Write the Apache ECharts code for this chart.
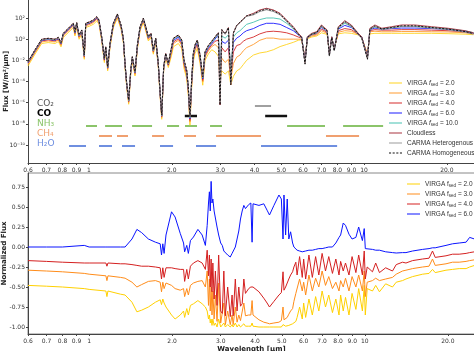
<!DOCTYPE html>
<html>
<head>
<meta charset="utf-8">
<script src="https://cdn.jsdelivr.net/npm/echarts@6/dist/echarts.min.js"></script>
<style>
html, body { margin: 0; padding: 0; background: #fff; }
#chart { width: 474px; height: 351px; }
</style>
</head>
<body>
<div id="chart"></div>
<script>
// ---- top panel: wavelength grid (um) and log10 flux per model ----
var wlFlux = [0.60,0.636,0.673,0.711,0.752,0.774,0.791,0.806,0.841,0.877,
  0.889,0.902,0.920,0.941,0.961,0.973,1.008,1.037,1.067,1.087,
  1.112,1.137,1.150,1.169,1.192,1.226,1.268,1.307,1.333,1.352,
  1.371,1.394,1.418,1.437,1.470,1.499,1.533,1.576,1.608,1.643,
  1.680,1.713,1.748,1.786,1.811,1.838,1.868,1.900,1.942,1.997,
  2.026,2.112,2.173,2.215,2.265,2.296,2.328,2.361,2.394,2.428,
  2.476,2.533,2.591,2.641,2.716,2.793,2.871,2.952,2.995,3.039,
  3.125,3.213,3.277,3.349,3.443,3.540,3.639,3.741,3.960,4.180,
  4.420,4.680,4.950,5.230,5.530,5.770,5.930,6.100,6.220,6.450,
  6.730,7.000,7.340,7.480,7.630,7.790,8.060,8.510,8.990,9.530,
  9.800,10.29,10.50,10.95,11.60,12.60,13.70,15.30,17.60,20.20,
  23.30,25.00];

var cloudlessLog = [-2.13,-1.02,-0.01,0.08,-0.01,0.17,-0.33,0.55,1.03,1.50,
  0.70,1.56,0.39,0.87,-1.50,1.50,1.65,1.81,2.12,1.81,
  0.23,-1.81,-0.71,-2.60,-0.39,1.50,2.38,1.34,0.08,-2.28,
  -4.17,-5.75,-2.91,-1.66,-3.08,-0.55,1.18,1.97,1.18,0.23,
  0.55,-1.02,0.08,-2.28,-4.80,-7.17,-2.60,-1.34,-2.28,-0.71,
  0.08,0.39,-0.08,-1.97,-2.91,-4.49,-7.33,-3.86,-1.34,-0.55,
  -0.08,-1.50,-3.55,-1.20,-0.60,-0.20,0.20,0.60,-6.22,0.90,
  0.50,1.10,-4.30,0.60,1.30,1.60,1.90,2.20,2.44,2.76,
  2.92,2.76,2.44,1.81,1.18,0.55,0.23,-2.28,0.23,0.55,
  0.71,1.34,0.87,-1.50,0.23,-1.02,1.18,1.75,1.34,0.55,
  0.23,-1.81,1.03,1.34,1.03,1.18,1.34,1.34,1.18,1.03,
  0.80,0.61];

var carmaHomLog = [-2.13,-1.02,-0.01,0.08,-0.01,0.17,-0.33,0.55,1.03,1.50,
  0.70,1.56,0.39,0.87,-1.50,1.50,1.65,1.81,2.12,1.81,
  0.23,-1.81,-0.71,-2.60,-0.39,1.50,2.38,1.34,0.08,-2.28,
  -4.17,-5.75,-2.91,-1.66,-3.08,-0.55,1.18,1.97,1.18,0.23,
  0.55,-1.02,0.08,-2.28,-4.80,-7.17,-2.60,-1.34,-2.28,-0.71,
  0.08,0.39,-0.08,-1.97,-2.91,-4.49,-7.33,-3.86,-1.34,-0.55,
  -0.08,-1.50,-3.55,-1.20,-0.60,-0.20,0.20,0.60,-6.22,0.90,
  0.50,1.10,-4.30,0.60,1.30,1.60,1.90,2.20,2.36,2.68,
  2.84,2.68,2.36,1.73,1.10,0.47,0.15,-2.36,0.15,0.47,
  0.63,1.26,0.79,-1.58,0.15,-1.10,1.10,1.67,1.26,0.47,
  0.15,-1.89,0.95,1.26,0.95,1.10,1.26,1.26,1.10,0.95,
  0.72,0.53];

var carmaHetLog = [-2.18,-1.07,-0.06,0.03,-0.06,0.12,-0.38,0.50,0.98,1.45,
  0.65,1.51,0.34,0.82,-1.55,1.45,1.60,1.76,2.07,1.76,
  0.18,-1.86,-0.76,-2.65,-0.44,1.45,2.33,1.29,0.03,-2.33,
  -4.22,-5.80,-2.96,-1.71,-3.13,-0.60,1.13,1.92,1.13,0.18,
  0.50,-1.07,0.03,-2.33,-4.85,-7.22,-2.65,-1.39,-2.33,-0.76,
  0.03,0.34,-0.13,-2.02,-2.96,-4.54,-7.38,-3.91,-1.39,-0.60,
  -0.13,-1.55,-3.60,-1.25,-0.65,-0.25,0.15,0.55,-6.00,0.85,
  0.45,1.05,-4.20,0.55,1.25,1.55,1.85,2.15,2.29,2.61,
  2.77,2.61,2.29,1.66,1.03,0.40,0.08,-2.30,0.08,0.40,
  0.56,1.19,0.72,-1.60,0.08,-1.10,1.03,1.60,1.19,0.40,
  0.08,-1.90,0.88,1.19,0.88,1.03,1.19,1.19,1.03,0.88,
  0.65,0.46];

var virga10Log = [-2.18,-1.07,-0.06,0.03,-0.06,0.12,-0.38,0.50,0.98,1.45,
  0.65,1.51,0.34,0.82,-1.55,1.45,1.60,1.76,2.07,1.76,
  0.18,-1.86,-0.76,-2.65,-0.44,1.45,2.33,1.29,0.03,-2.33,
  -4.22,-5.80,-2.96,-1.71,-3.13,-0.60,1.13,1.92,1.13,0.18,
  0.50,-1.07,0.03,-2.33,-4.85,-7.22,-2.65,-1.39,-2.33,-0.81,
  -0.02,0.29,-0.18,-2.07,-3.01,-4.59,-7.43,-3.96,-1.44,-0.65,
  -0.18,-1.60,-3.65,-1.30,-0.70,-0.30,0.10,0.50,-3.50,0.30,
  0.10,0.40,-3.00,0.20,0.60,0.80,1.10,1.40,1.60,1.85,
  2.00,2.00,1.90,1.50,1.00,0.50,0.22,-2.20,0.20,0.50,
  0.65,1.20,0.80,-1.45,0.22,-1.00,1.05,1.50,1.20,0.52,
  0.22,-1.75,0.95,1.15,0.98,1.10,1.20,1.20,1.10,0.98,
  0.78,0.60];

var virga6Log = [-2.23,-1.12,-0.11,-0.02,-0.11,0.07,-0.43,0.45,0.93,1.40,
  0.60,1.46,0.29,0.77,-1.60,1.40,1.55,1.71,2.02,1.71,
  0.13,-1.91,-0.81,-2.70,-0.49,1.40,2.28,1.24,-0.02,-2.38,
  -4.27,-5.85,-3.01,-1.76,-3.18,-0.65,1.08,1.87,1.08,0.13,
  0.45,-1.12,-0.02,-2.38,-4.90,-7.27,-2.70,-1.44,-2.38,-0.91,
  -0.12,0.19,-0.28,-2.17,-3.11,-4.69,-7.53,-4.06,-1.54,-0.75,
  -0.28,-1.70,-3.75,-1.40,-0.80,-0.40,0.00,0.40,-3.50,-0.20,
  -0.40,-0.10,-3.20,-0.30,0.10,0.30,0.60,0.80,1.00,1.30,
  1.50,1.50,1.40,1.10,0.80,0.40,0.20,-2.10,0.18,0.45,
  0.60,1.10,0.75,-1.40,0.20,-0.98,0.95,1.30,1.10,0.50,
  0.21,-1.70,0.90,1.05,0.95,1.00,1.05,1.05,1.00,0.92,
  0.75,0.58];

var virga4Log = [-2.28,-1.17,-0.16,-0.07,-0.16,0.02,-0.48,0.40,0.88,1.35,
  0.55,1.41,0.24,0.72,-1.65,1.35,1.50,1.66,1.97,1.66,
  0.08,-1.96,-0.86,-2.75,-0.54,1.35,2.23,1.19,-0.07,-2.43,
  -4.32,-5.90,-3.06,-1.81,-3.23,-0.70,1.03,1.82,1.03,0.08,
  0.40,-1.17,-0.07,-2.43,-4.95,-7.32,-2.75,-1.49,-2.43,-1.06,
  -0.27,0.04,-0.43,-2.32,-3.26,-4.84,-7.68,-4.21,-1.69,-0.90,
  -0.43,-1.85,-3.90,-1.55,-0.95,-0.55,-0.20,-0.10,-3.50,-0.80,
  -1.20,-0.80,-3.50,-1.20,-0.60,-0.50,-0.20,0.00,0.20,0.50,
  0.70,0.75,0.70,0.60,0.40,0.20,0.10,-2.00,0.15,0.40,
  0.50,0.95,0.65,-1.35,0.18,-0.95,0.80,1.00,0.90,0.48,
  0.20,-1.60,0.80,0.90,0.85,0.85,0.90,0.90,0.85,0.80,
  0.68,0.55];

var virga3Log = [-2.38,-1.27,-0.26,-0.17,-0.26,-0.08,-0.58,0.30,0.78,1.25,
  0.45,1.31,0.14,0.62,-1.75,1.25,1.40,1.56,1.87,1.56,
  -0.02,-2.06,-0.96,-2.85,-0.64,1.25,2.13,1.09,-0.17,-2.53,
  -4.42,-6.00,-3.16,-1.91,-3.33,-0.80,0.93,1.72,0.93,-0.02,
  0.30,-1.27,-0.17,-2.53,-5.05,-7.42,-2.85,-1.59,-2.53,-1.21,
  -0.42,-0.11,-0.58,-2.47,-3.41,-4.99,-7.83,-4.36,-1.84,-1.05,
  -0.58,-2.00,-4.05,-1.70,-1.10,-0.70,-0.50,-0.80,-3.50,-1.80,
  -2.20,-1.90,-3.80,-2.30,-1.70,-1.50,-1.10,-0.80,-0.50,-0.10,
  0.10,0.10,0.00,0.00,0.00,0.00,0.00,-1.90,0.10,0.30,
  0.40,0.80,0.55,-1.30,0.15,-0.90,0.65,0.80,0.75,0.45,
  0.18,-1.50,0.70,0.75,0.70,0.70,0.72,0.72,0.70,0.68,
  0.60,0.50];

var virga2Log = [-2.53,-1.42,-0.41,-0.32,-0.41,-0.23,-0.73,0.15,0.63,1.10,
  0.30,1.16,-0.01,0.47,-1.90,1.10,1.25,1.41,1.72,1.41,
  -0.17,-2.21,-1.11,-3.00,-0.79,1.10,1.98,0.94,-0.32,-2.68,
  -4.57,-6.15,-3.31,-2.06,-3.48,-0.95,0.78,1.57,0.78,-0.17,
  0.15,-1.42,-0.32,-2.68,-5.20,-7.57,-3.00,-1.74,-2.68,-1.51,
  -0.72,-0.41,-0.88,-2.77,-3.71,-5.29,-8.13,-4.66,-2.14,-1.35,
  -0.88,-2.30,-4.35,-2.00,-1.40,-1.00,-1.20,-1.60,-3.80,-3.00,
  -3.30,-3.00,-4.30,-3.50,-3.00,-2.80,-2.40,-2.00,-1.50,-1.30,
  -1.20,-1.00,-0.70,-0.50,-0.30,-0.10,-0.05,-1.80,0.05,0.20,
  0.30,0.60,0.45,-1.25,0.10,-0.85,0.50,0.60,0.55,0.40,
  0.15,-1.40,0.50,0.55,0.55,0.55,0.55,0.55,0.55,0.52,
  0.47,0.42];

// molecule absorption bands [start, end] in um
var co2Bands = [[4.01, 4.59]];
var coBands = [[2.23, 2.47], [4.37, 5.25]];
var nh3Bands = [[0.975, 1.069], [1.144, 1.318], [1.434, 1.695], [1.921, 2.125],
  [2.234, 2.47], [2.754, 3.045], [5.25, 7.21], [8.39, 11.73]];
var ch4Bands = [[1.087, 1.212], [1.264, 1.386], [1.695, 1.874], [2.215, 2.449],
  [2.896, 4.22], [7.27, 9.59]];
var h2oBands = [[0.846, 0.975], [1.087, 1.212], [1.318, 1.47], [1.812, 2.021],
  [2.449, 2.896], [4.22, 7.98]];
var molecules = ['CO2', 'CO', 'NH3', 'CH4', 'H2O'];

// ---- bottom panel: normalized flux ----
var wlNorm = [0.60,0.70,0.80,0.96,1.00,1.15,1.16,1.17,1.30,1.35,
  1.43,1.49,1.55,1.64,1.74,1.81,1.83,1.85,1.87,1.90,
  1.99,2.05,2.14,2.20,2.22,2.26,2.29,2.33,2.39,2.48,
  2.57,2.64,2.68,2.71,2.73,2.75,2.77,2.79,2.81,2.84,
  2.87,2.91,2.95,3.00,3.04,3.08,3.12,3.18,3.25,3.30,
  3.33,3.39,3.44,3.49,3.54,3.59,3.64,3.69,3.79,3.86,
  3.90,3.93,4.13,4.30,4.42,4.51,4.68,4.88,4.98,5.05,
  5.09,5.16,5.23,5.30,5.38,5.47,5.53,5.62,5.68,5.80,
  5.93,6.00,6.10,6.27,6.45,6.63,6.81,7.00,7.20,7.40,
  7.63,7.85,8.06,8.17,8.35,8.51,8.76,8.99,9.28,9.50,
  9.80,9.95,10.04,10.2,10.66,10.95,11.3,11.9,12.6,13.0,
  13.7,14.1,14.9,16.2,17.1,17.6,18.0,19.7,20.8,22.0,
  23.3,24.0,25.0];

var norm6 = [0.00,0.00,0.00,0.02,0.00,0.00,0.00,0.00,0.00,0.00,
  0.10,0.22,0.18,0.10,0.06,0.04,-0.10,0.04,-0.08,0.15,
  0.44,0.375,0.17,0.05,-0.06,0.02,-0.08,0.08,0.125,0.22,
  0.15,0.02,0.27,0.55,0.69,0.45,0.82,0.55,0.60,0.45,
  0.44,0.25,0.15,0.05,0.02,-0.05,-0.06,-0.10,-0.125,-0.08,
  -0.06,0.00,0.10,0.20,0.35,0.45,0.52,0.48,0.53,0.55,
  0.06,0.54,0.52,0.54,0.46,0.40,0.52,0.65,0.60,0.10,
  0.65,0.15,0.60,0.10,0.19,0.05,0.00,-0.02,-0.04,-0.05,
  -0.06,-0.06,-0.05,-0.04,-0.04,-0.03,-0.02,-0.02,-0.01,0.00,
  0.00,0.05,0.12,0.15,0.30,0.27,0.16,0.10,0.12,0.25,
  0.08,0.23,-0.02,-0.02,-0.03,-0.04,-0.04,-0.06,-0.07,-0.075,
  -0.07,-0.07,-0.05,-0.03,-0.02,-0.01,-0.01,0.02,0.04,0.05,
  0.06,0.12,0.10];

var norm4 = [-0.17,-0.18,-0.19,-0.20,-0.20,-0.20,-0.24,-0.20,-0.21,-0.21,
  -0.22,-0.23,-0.24,-0.24,-0.25,-0.26,-0.40,-0.26,-0.38,-0.26,
  -0.26,-0.27,-0.28,-0.28,-0.43,-0.28,-0.40,-0.24,-0.20,-0.17,
  -0.20,-0.28,-0.04,-0.36,-0.10,-0.50,-0.15,-0.56,-0.20,-0.65,
  -0.30,-0.73,-0.10,-0.80,-0.83,-0.30,-0.86,-0.50,-0.87,-0.60,
  -0.86,-0.40,-0.80,-0.50,-0.74,-0.71,-0.40,-0.58,-0.52,-0.50,
  -0.50,-0.50,-0.56,-0.64,-0.70,-0.75,-0.68,-0.60,-0.57,-0.31,
  -0.54,-0.50,-0.48,-0.40,-0.35,-0.31,-0.25,-0.19,-0.35,-0.12,
  -0.38,-0.15,-0.40,-0.10,-0.38,-0.12,-0.35,-0.08,-0.30,-0.12,
  -0.33,-0.15,-0.35,-0.18,-0.30,-0.20,-0.35,-0.12,-0.32,-0.10,
  -0.35,-0.05,-0.40,-0.25,-0.31,-0.20,-0.32,-0.26,-0.30,-0.22,
  -0.19,-0.20,-0.17,-0.15,-0.14,-0.05,-0.13,-0.11,-0.09,-0.09,
  -0.08,-0.07,-0.06];

var norm3 = [-0.29,-0.30,-0.31,-0.33,-0.34,-0.36,-0.42,-0.36,-0.38,-0.39,
  -0.44,-0.50,-0.47,-0.43,-0.42,-0.44,-0.56,-0.44,-0.52,-0.45,
  -0.48,-0.52,-0.54,-0.52,-0.62,-0.52,-0.60,-0.48,-0.45,-0.43,
  -0.42,-0.50,-0.30,-0.73,-0.40,-0.80,-0.50,-0.85,-0.55,-0.90,
  -0.60,-0.93,-0.45,-0.95,-0.96,-0.70,-0.97,-0.80,-0.97,-0.85,
  -0.97,-0.75,-0.94,-0.85,-0.92,-0.92,-0.70,-0.86,-0.85,-0.85,
  -0.67,-0.85,-0.91,-0.94,-0.95,-0.96,-0.95,-0.94,-0.92,-0.75,
  -0.91,-0.89,-0.88,-0.84,-0.80,-0.77,-0.68,-0.58,-0.56,-0.40,
  -0.55,-0.44,-0.60,-0.35,-0.55,-0.39,-0.50,-0.30,-0.48,-0.37,
  -0.52,-0.44,-0.55,-0.42,-0.50,-0.39,-0.55,-0.37,-0.50,-0.35,
  -0.55,-0.30,-0.62,-0.44,-0.42,-0.39,-0.42,-0.40,-0.38,-0.34,
  -0.30,-0.29,-0.27,-0.25,-0.24,-0.15,-0.23,-0.21,-0.19,-0.19,
  -0.18,-0.17,-0.16];

var norm2 = [-0.48,-0.49,-0.50,-0.52,-0.53,-0.55,-0.62,-0.55,-0.59,-0.60,
  -0.69,-0.81,-0.79,-0.75,-0.69,-0.66,-0.72,-0.65,-0.70,-0.75,
  -0.85,-0.90,-0.85,-0.80,-0.88,-0.77,-0.85,-0.73,-0.71,-0.67,
  -0.71,-0.75,-0.80,-0.90,-0.85,-0.95,-0.90,-0.98,-0.90,-0.98,
  -0.95,-1.00,-0.90,-1.00,-1.00,-0.95,-1.00,-0.97,-1.00,-0.97,
  -1.00,-0.95,-1.00,-0.97,-1.00,-1.00,-0.96,-0.99,-0.99,-0.99,
  -0.95,-0.99,-1.00,-1.00,-1.00,-1.00,-1.00,-1.00,-1.00,-0.97,
  -0.99,-0.99,-0.98,-0.98,-0.97,-0.96,-0.95,-0.93,-0.88,-0.75,
  -0.90,-0.70,-0.88,-0.65,-0.85,-0.62,-0.80,-0.55,-0.75,-0.60,
  -0.82,-0.65,-0.85,-0.60,-0.80,-0.63,-0.85,-0.58,-0.78,-0.52,
  -0.80,-0.48,-0.85,-0.52,-0.55,-0.48,-0.56,-0.46,-0.50,-0.44,
  -0.42,-0.40,-0.37,-0.34,-0.33,-0.28,-0.32,-0.29,-0.28,-0.27,
  -0.27,-0.25,-0.23];

// axis ticks
var wlTicks = [0.6, 0.7, 0.8, 0.9, 1, 2, 3, 4, 5, 6, 7, 8, 9, 10, 20];
var wlTickLabels = ['0.6','0.7','0.8','0.9','1','2.0','3.0','4.0','5.0','6.0','7.0','8.0','9.0','10','20.0'];
var fluxTicks = [1e-10, 1e-8, 1e-6, 1e-4, 1e-2, 1, 1e2];
var normTicks = [-1, -0.75, -0.5, -0.25, 0, 0.25, 0.5, 0.75];

var legendText = {
  v2: 'VIRGA {fi|f}{sb|sed} = 2.0',
  v3: 'VIRGA {fi|f}{sb|sed} = 3.0',
  v4: 'VIRGA {fi|f}{sb|sed} = 4.0',
  v6: 'VIRGA {fi|f}{sb|sed} = 6.0',
  v10: 'VIRGA {fi|f}{sb|sed} = 10.0',
  cl: 'Cloudless',
  het: 'CARMA Heterogenous',
  hom: 'CARMA Homogeneous',
  n2: 'VIRGA f{sb|sed} = 2.0',
  n3: 'VIRGA f{sb|sed} = 3.0',
  n4: 'VIRGA f{sb|sed} = 4.0',
  n6: 'VIRGA f{sb|sed} = 6.0'
};
var molText = {
  CO2: '{co2|CO₂}', CO: '{co|CO}', NH3: '{nh3|NH₃}', CH4: '{ch4|CH₄}', H2O: '{h2o|H₂O}'
};

var SUP = {'-': '⁻', '0': '⁰', '1': '¹', '2': '²', '3': '³', '4': '⁴',
  '5': '⁵', '6': '⁶', '7': '⁷', '8': '⁸', '9': '⁹'};
function powLabel(v) {
  var e = String(Math.round(Math.log10(v)));
  return '10' + e.split('').map(function (c) { return SUP[c]; }).join('');
}
function wlLabel(v) {
  for (var i = 0; i < wlTicks.length; i++) {
    if (Math.abs(wlTicks[i] - v) < 1e-6 * wlTicks[i]) return wlTickLabels[i];
  }
  return '';
}
function logPairs(xs, ys) {
  return xs.map(function (x, i) { return [x, Math.pow(10, ys[i])]; });
}
function pairs(xs, ys) {
  return xs.map(function (x, i) { return [x, ys[i]]; });
}

var FONT = 'DejaVu Sans';
var LFONT = 'Liberation Sans';
var axisCol = '#444';
var SOLID_ICON = 'path://M0 0H26V2H0Z';
var DASH_ICON = 'path://M0 0H4V2H0Z M7 0H11V2H7Z M14 0H18V2H14Z M21 0H25V2H21Z';
var nameStyle = { fontSize: 7, fontWeight: 'bold', color: '#222', fontFamily: FONT };

function wlAxis(grid, withName) {
  return {
    type: 'log', gridIndex: grid, min: 0.6, max: 25.1, logBase: 10,
    axisLine: { show: true, onZero: false, lineStyle: { color: axisCol, width: 1 } },
    axisTick: { show: true, length: 2, customValues: wlTicks, lineStyle: { color: axisCol } },
    minorTick: { show: false },
    splitLine: { show: false },
    axisLabel: { customValues: wlTicks, formatter: wlLabel, fontSize: 6, color: '#333', margin: 4, fontFamily: FONT },
    name: withName ? 'Wavelength [μm]' : '',
    nameLocation: 'middle', nameGap: 12, nameMoveOverlap: false,
    nameTextStyle: nameStyle
  };
}

function fluxLine(name, ys, color, width, dash) {
  return {
    name: name, type: 'line', xAxisIndex: 0, yAxisIndex: 0,
    data: logPairs(wlFlux, ys), symbol: 'none', animation: false,
    lineStyle: { color: color, width: width, type: dash || 'solid' },
    itemStyle: { color: color }
  };
}
function normLine(name, ys, color) {
  return {
    name: name, type: 'line', xAxisIndex: 1, yAxisIndex: 1,
    data: pairs(wlNorm, ys), symbol: 'none', animation: false,
    lineStyle: { color: color, width: 1 }, itemStyle: { color: color }
  };
}
function bandSeries(bands, mol, color, width) {
  return {
    type: 'custom', xAxisIndex: 2, yAxisIndex: 2, silent: true, animation: false,
    itemStyle: { color: color },
    encode: { x: [0, 1], y: 2 },
    data: bands.map(function (b) { return [b[0], b[1], mol]; }),
    renderItem: function (params, api) {
      var p1 = api.coord([api.value(0), api.value(2)]);
      var p2 = api.coord([api.value(1), api.value(2)]);
      return {
        type: 'line',
        shape: { x1: p1[0], y1: p1[1], x2: p2[0], y2: p2[1] },
        style: { stroke: api.visual('color'), lineWidth: width }
      };
    }
  };
}
function legendItems(names) {
  return names.map(function (n) { return { name: n, icon: n === 'hom' ? DASH_ICON : SOLID_ICON }; });
}

var legendRich = {
  fi: { fontStyle: 'italic', fontSize: 6.5, fontFamily: LFONT, color: '#333' },
  sb: { fontSize: 4.5, fontFamily: LFONT, color: '#333', padding: [3, 0, 0, 0] }
};

var chart = echarts.init(document.getElementById('chart'));
chart.setOption({
  animation: false,
  backgroundColor: '#fff',
  textStyle: { fontFamily: FONT },
  grid: [
    { left: 28, right: 0, top: 0, height: 163, outerBoundsMode: 'none', containLabel: false },
    { left: 28, right: -1, top: 173, bottom: 17, show: true, borderColor: '#888', borderWidth: 1,
      backgroundColor: 'transparent', outerBoundsMode: 'none', containLabel: false },
    { left: 28, right: 0, top: 101, height: 50, outerBoundsMode: 'none', containLabel: false }
  ],
  xAxis: [
    wlAxis(0, false),
    wlAxis(1, true),
    { type: 'log', gridIndex: 2, min: 0.6, max: 25.1, show: false }
  ],
  yAxis: [
    {
      type: 'log', gridIndex: 0, min: 1.995e-12, max: 5012, logBase: 10,
      axisLine: { show: true, onZero: false, lineStyle: { color: axisCol } },
      axisTick: { show: true, length: 2, customValues: fluxTicks, lineStyle: { color: axisCol } },
      minorTick: { show: false },
      splitLine: { show: false },
      axisLabel: { customValues: fluxTicks, formatter: powLabel, fontSize: 6, color: '#333', margin: 3, fontFamily: FONT },
      name: 'Flux [W/m²/μm]', nameLocation: 'middle', nameGap: 18, nameMoveOverlap: false,
      nameTextStyle: nameStyle
    },
    {
      type: 'value', gridIndex: 1, min: -1.0875, max: 0.925,
      axisLine: { show: true, onZero: false, lineStyle: { color: axisCol } },
      axisTick: { show: true, length: 2, customValues: normTicks, lineStyle: { color: axisCol } },
      splitLine: { show: false },
      axisLabel: {
        customValues: normTicks, fontSize: 6, color: '#333', margin: 3, fontFamily: FONT,
        formatter: function (v) { return v.toFixed(2); }
      },
      name: 'Normalized Flux', nameLocation: 'middle', nameGap: 20, nameMoveOverlap: false,
      nameTextStyle: nameStyle
    },
    {
      type: 'category', gridIndex: 2, data: molecules, inverse: true,
      axisLine: { show: false }, axisTick: { show: false }, splitLine: { show: false },
      axisLabel: {
        inside: true, margin: 9, interval: 0, hideOverlap: false, padding: [0, 0, 4, 0],
        formatter: function (v) { return molText[v]; },
        rich: {
          co2: { color: '#555', fontSize: 9, fontFamily: FONT },
          co: { color: '#000', fontSize: 9, fontWeight: 'bold', fontFamily: FONT },
          nh3: { color: '#8bc46a', fontSize: 9, fontFamily: FONT },
          ch4: { color: '#f0a070', fontSize: 9, fontFamily: FONT },
          h2o: { color: '#6f8fe0', fontSize: 9, fontFamily: FONT }
        }
      }
    }
  ],
  legend: [
    {
      data: legendItems(['v2', 'v3', 'v4', 'v6', 'v10', 'cl', 'het', 'hom']),
      orient: 'vertical', left: 384, top: 74, itemWidth: 13, itemHeight: 1.2, itemGap: 2,
      formatter: function (n) { return legendText[n]; },
      textStyle: { fontSize: 6.5, color: '#333', lineHeight: 8, fontFamily: LFONT, rich: legendRich },
      selectedMode: false
    },
    {
      data: legendItems(['n2', 'n3', 'n4', 'n6']),
      orient: 'vertical', left: 402, top: 175, itemWidth: 13, itemHeight: 1.2, itemGap: 2,
      formatter: function (n) { return legendText[n]; },
      textStyle: { fontSize: 6.5, color: '#333', lineHeight: 8, fontFamily: LFONT, rich: legendRich },
      selectedMode: false
    }
  ],
  series: [
    fluxLine('v2', virga2Log, '#ffd21f', 0.9),
    fluxLine('v3', virga3Log, '#ff9a2e', 0.9),
    fluxLine('v4', virga4Log, '#d42a2a', 0.9),
    fluxLine('v6', virga6Log, '#1a1aff', 0.9),
    fluxLine('v10', virga10Log, '#45c1b0', 0.9),
    fluxLine('cl', cloudlessLog, '#a8323e', 0.9),
    fluxLine('het', carmaHetLog, '#9a9a9a', 0.9),
    fluxLine('hom', carmaHomLog, '#111111', 1, [2, 1.5]),
    bandSeries(co2Bands, 'CO2', '#a0a0a0', 2),
    bandSeries(coBands, 'CO', '#111111', 2.5),
    bandSeries(nh3Bands, 'NH3', '#8bc46a', 2),
    bandSeries(ch4Bands, 'CH4', '#f0a070', 2),
    bandSeries(h2oBands, 'H2O', '#6f8fe0', 2),
    normLine('n2', norm2, '#ffd000'),
    normLine('n3', norm3, '#ff8c1a'),
    normLine('n4', norm4, '#d42020'),
    normLine('n6', norm6, '#0a14ff')
  ]
});
</script>
</body>
</html>
